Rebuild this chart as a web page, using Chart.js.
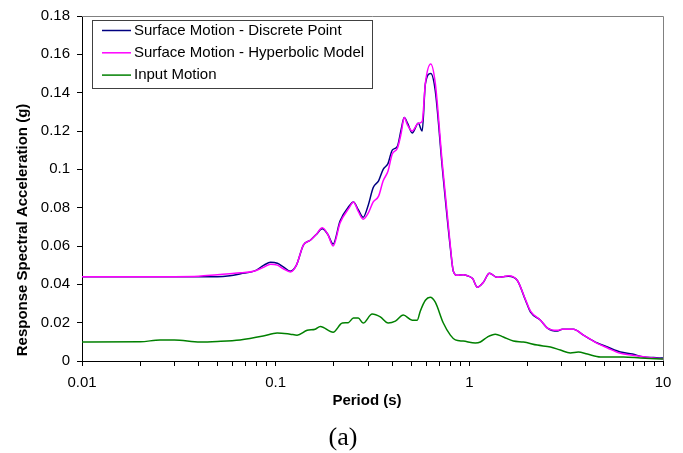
<!DOCTYPE html>
<html>
<head>
<meta charset="utf-8">
<title>Response Spectra</title>
<script src="https://cdn.jsdelivr.net/npm/chart.js@4.4.1/dist/chart.umd.min.js"></script>
<style>
    html, body { margin: 0; padding: 0; background: #fff; }
    #wrap { width: 683px; height: 453px; }
</style>
</head>
<body>
<div id="wrap"><canvas id="spectraChart" width="683" height="453"></canvas></div>
<script>
// Periods (s) shared by both surface motion curves
const surfacePeriods = [
    0.01, 0.03, 0.04, 0.05, 0.058, 0.066, 0.078, 0.087, 0.094, 0.102,
    0.11, 0.119, 0.128, 0.139, 0.151, 0.162, 0.174, 0.186, 0.198, 0.215,
    0.24, 0.252, 0.267, 0.283, 0.30, 0.319, 0.34, 0.359, 0.38, 0.40,
    0.425, 0.445, 0.461, 0.48, 0.507, 0.545, 0.571, 0.593, 0.632, 0.667,
    0.725, 0.798, 0.826, 0.867, 0.93, 0.977, 1.04, 1.10, 1.18, 1.27,
    1.39, 1.50, 1.59, 1.77, 1.95, 2.07, 2.33, 2.53, 2.85, 3.02,
    3.45, 3.88, 4.58, 5.17, 6.03, 6.95, 7.93, 8.93, 10
];

// Spectral acceleration (g), surface motion - discrete point
const discretePoint = [
    0.044, 0.044, 0.044, 0.044, 0.0445, 0.0455, 0.047, 0.050, 0.0515, 0.051,
    0.049, 0.0468, 0.050, 0.0605, 0.063, 0.066, 0.069, 0.066, 0.061, 0.073,
    0.081, 0.083, 0.079, 0.075, 0.081, 0.0905, 0.094, 0.100, 0.103, 0.110,
    0.112, 0.121, 0.127, 0.124, 0.119, 0.124, 0.120, 0.1446, 0.150, 0.141,
    0.101, 0.059, 0.047, 0.0447, 0.045, 0.0445, 0.043, 0.0385, 0.041, 0.0458,
    0.0437, 0.044, 0.0442, 0.042, 0.0317, 0.0255, 0.0213, 0.0172, 0.0156, 0.0166,
    0.0166, 0.0135, 0.0094, 0.0073, 0.0047, 0.0036, 0.0021, 0.0018, 0.0015
];

// Spectral acceleration (g), surface motion - hyperbolic model
const hyperbolicModel = [
    0.044, 0.044, 0.0442, 0.045, 0.0455, 0.046, 0.047, 0.049, 0.0505, 0.050,
    0.048, 0.0465, 0.050, 0.0605, 0.063, 0.066, 0.0695, 0.066, 0.060, 0.072,
    0.080, 0.083, 0.078, 0.074, 0.077, 0.083, 0.086, 0.094, 0.099, 0.108,
    0.111, 0.119, 0.127, 0.123, 0.120, 0.124, 0.125, 0.145, 0.155, 0.145,
    0.103, 0.060, 0.047, 0.0447, 0.045, 0.0445, 0.043, 0.0385, 0.041, 0.0458,
    0.0437, 0.044, 0.0445, 0.042, 0.032, 0.026, 0.0213, 0.0172, 0.016, 0.0166,
    0.0166, 0.0135, 0.0092, 0.0068, 0.0040, 0.0030, 0.0022, 0.0016, 0.0012
];

// Input motion spectrum
const inputPeriods = [
    0.01, 0.02, 0.0253, 0.03, 0.0407, 0.05, 0.0655, 0.0862, 0.1018, 0.1188,
    0.129, 0.1455, 0.160, 0.170, 0.198, 0.221, 0.237, 0.252, 0.267, 0.283,
    0.315, 0.347, 0.381, 0.415, 0.456, 0.507, 0.538, 0.558, 0.593, 0.628,
    0.667, 0.734, 0.798, 0.847, 0.93, 1.074, 1.14, 1.239, 1.362, 1.499,
    1.688, 1.901, 2.244, 2.623, 2.953, 3.326, 3.656, 4.07, 4.754, 6.25,
    7.652, 10
];
const inputMotion = [
    0.0099, 0.0100, 0.011, 0.011, 0.0099, 0.0102, 0.011, 0.013, 0.0146, 0.014,
    0.0135, 0.016, 0.0166, 0.018, 0.015, 0.0198, 0.020, 0.0224, 0.0224, 0.0198,
    0.0245, 0.023, 0.0198, 0.0208, 0.024, 0.0213, 0.0213, 0.026, 0.0317, 0.0333,
    0.0307, 0.0198, 0.0135, 0.011, 0.0104, 0.0094, 0.0099, 0.0125, 0.014, 0.0125,
    0.0104, 0.0099, 0.0083, 0.0073, 0.0057, 0.0042, 0.0047, 0.0036, 0.0021, 0.0021,
    0.0016, 0.001
];

const seriesNames = [
    'Surface Motion - Discrete Point',
    'Surface Motion - Hyperbolic Model',
    'Input Motion'
];
const seriesColors = ['#000080', '#ff00ff', '#008000'];

// Axis ticks
const xDecades = [0.01, 0.1, 1, 10];
const xTickLabels = ['0.01', '0.1', '1', '10'];
const yTickValues = [0, 0.02, 0.04, 0.06, 0.08, 0.1, 0.12, 0.14, 0.16, 0.18];
const yTickLabels = ['0', '0.02', '0.04', '0.06', '0.08', '0.1', '0.12', '0.14', '0.16', '0.18'];

const FONT = '"Liberation Sans", Arial, sans-serif';

// minor ticks 1..9 in each decade, plus the closing decade
function buildLogTicks() {
    const ticks = [];
    xDecades.slice(0, -1).forEach(d => {
        for (let k = 1; k <= 9; k++) ticks.push(Number((d * k).toPrecision(3)));
    });
    ticks.push(xDecades[xDecades.length - 1]);
    return ticks;
}

function toPoints(xs, ys) {
    return xs.map((x, i) => ({ x: x, y: ys[i] }));
}

// gray frame on top/right, legend box, axis titles, caption
const chartDecor = {
    id: 'chartDecor',
    beforeDatasetsDraw(chart) {
        const { ctx, chartArea: a } = chart;
        ctx.save();
        ctx.strokeStyle = '#808080';
        ctx.lineWidth = 1;
        ctx.beginPath();
        ctx.moveTo(a.left, a.top + 0.5);
        ctx.lineTo(a.right + 0.5, a.top + 0.5);
        ctx.lineTo(a.right + 0.5, a.bottom);
        ctx.stroke();
        ctx.restore();
    },
    afterDraw(chart) {
        const ctx = chart.ctx;
        ctx.save();

        // legend
        ctx.fillStyle = '#fff';
        ctx.fillRect(92, 20, 280, 68);
        ctx.strokeStyle = '#404040';
        ctx.lineWidth = 1;
        ctx.strokeRect(92.5, 20.5, 280, 68);
        ctx.font = '15px ' + FONT;
        ctx.textBaseline = 'middle';
        ctx.textAlign = 'left';
        seriesNames.forEach((name, i) => {
            const y = 30.5 + i * 22.3;
            ctx.strokeStyle = seriesColors[i];
            ctx.lineWidth = 1.5;
            ctx.beginPath();
            ctx.moveTo(102, y);
            ctx.lineTo(131, y);
            ctx.stroke();
            ctx.fillStyle = '#000';
            ctx.fillText(name, 134, y);
        });

        // axis titles
        ctx.font = 'bold 15px ' + FONT;
        ctx.textAlign = 'center';
        ctx.fillText('Period (s)', 367, 401);
        ctx.save();
        ctx.translate(23, 230);
        ctx.rotate(-Math.PI / 2);
        ctx.fillText('Response Spectral Acceleration (g)', 0, 0);
        ctx.restore();

        // caption
        ctx.font = '26px "Liberation Serif", "Times New Roman", serif';
        ctx.fillText('(a)', 343, 438);
        ctx.restore();
    }
};

function initializeChart() {
    const ctx = document.getElementById('spectraChart').getContext('2d');
    const xTickValues = buildLogTicks();
    const lineStyle = {
        borderWidth: 1.5,
        pointRadius: 0,
        fill: false,
        cubicInterpolationMode: 'monotone'
    };

    window.spectraChart = new Chart(ctx, {
        type: 'line',
        data: {
            datasets: [
                Object.assign({
                    label: seriesNames[0],
                    data: toPoints(surfacePeriods, discretePoint),
                    borderColor: seriesColors[0],
                    order: 3
                }, lineStyle),
                Object.assign({
                    label: seriesNames[1],
                    data: toPoints(surfacePeriods, hyperbolicModel),
                    borderColor: seriesColors[1],
                    order: 2
                }, lineStyle),
                Object.assign({
                    label: seriesNames[2],
                    data: toPoints(inputPeriods, inputMotion),
                    borderColor: seriesColors[2],
                    order: 1
                }, lineStyle)
            ]
        },
        options: {
            responsive: false,
            animation: false,
            devicePixelRatio: 1,
            layout: { padding: { left: 0, right: 20, top: 15, bottom: 62 } },
            plugins: {
                legend: { display: false },
                tooltip: { enabled: false }
            },
            scales: {
                x: {
                    type: 'logarithmic',
                    min: 0.01,
                    max: 10,
                    afterBuildTicks: s => { s.ticks = xTickValues.map(v => ({ value: v })); },
                    afterFit: s => { s.height = 30; },
                    grid: { drawOnChartArea: false, drawTicks: true, tickLength: 5, color: '#000' },
                    border: { display: true, color: '#000', width: 1 },
                    ticks: {
                        autoSkip: false,
                        maxRotation: 0,
                        padding: 8,
                        color: '#000',
                        font: { family: FONT, size: 15 },
                        callback: v => {
                            const i = xDecades.indexOf(v);
                            return i >= 0 ? xTickLabels[i] : '';
                        }
                    }
                },
                y: {
                    min: 0,
                    max: 0.18,
                    afterBuildTicks: s => { s.ticks = yTickValues.map(v => ({ value: v })); },
                    afterFit: s => { s.width = 82; },
                    grid: { drawOnChartArea: false, drawTicks: true, tickLength: 5, color: '#000' },
                    border: { display: true, color: '#000', width: 1 },
                    ticks: {
                        padding: 7,
                        color: '#000',
                        font: { family: FONT, size: 15 },
                        callback: (v, i) => yTickLabels[i]
                    }
                }
            }
        },
        plugins: [chartDecor]
    });
}

document.addEventListener('DOMContentLoaded', initializeChart);
</script>
</body>
</html>
